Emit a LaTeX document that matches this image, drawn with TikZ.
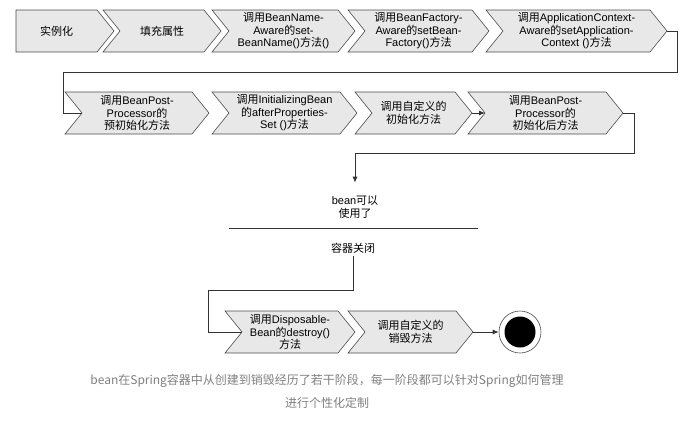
\documentclass[tikz,border=0pt]{standalone}
\usepackage{fontspec}
\setmainfont{Liberation Sans}
\newfontfamily\cjk{Noto Sans CJK SC}
\usetikzlibrary{arrows.meta}
\def\zh#1{{\cjk #1}}
% name, left x, right x, middle y, notch depth, text
\def\Chevron#1#2#3#4#5#6{
    \draw[stage] (#2,#4-21) -- (#3,#4-21) -- (#3+17,#4) -- (#3,#4+21) -- (#2,#4+21) -- (#2+#5,#4) -- cycle;
    \coordinate (#1-in) at (#2+#5,#4);
    \coordinate (#1-out) at (#3+17,#4);
    \node[stagetext] (#1) at ({(#2+#3+#5)/2},#4) {#6};
}

\begin{document}
\begin{tikzpicture}[x=1pt,y=-1pt,
    stage/.style={draw=black!70,fill=black!9,line width=0.6pt},
    stagetext/.style={align=center,font=\fontsize{11}{12.5}\selectfont,inner sep=0pt},
    flow/.style={draw=black!80,line width=0.8pt},
    flowtip/.style={flow,-{Latex[length=6pt,width=5pt]}},
    note/.style={align=center,text=black!50,font=\fontsize{12}{23}\selectfont\cjk}]
    \useasboundingbox (0,0) rectangle (696,421);

    \Chevron{s1}{16}{97}{31}{0}{\zh{实例化}}
    \Chevron{s2}{103}{204}{31}{17}{\zh{填充属性}}
    \Chevron{s3}{212}{338}{31}{17}{\zh{调用}BeanName-\\Aware\zh{的}set-\\BeanName()\zh{方法}()}
    \Chevron{s4}{348}{472}{31}{17}{\zh{调用}BeanFactory-\\Aware\zh{的}setBean-\\Factory()\zh{方法}}
    \Chevron{s5}{486}{650}{31}{17}{\zh{调用}ApplicationContext-\\Aware\zh{的}setApplication-\\Context ()\zh{方法}}

    \Chevron{p1}{65}{192}{113}{17}{\zh{调用}BeanPost-\\Processor\zh{的}\\\zh{预初始化方法}}
    \Chevron{p2}{212}{340}{113}{17}{\zh{调用}InitializingBean\\\zh{的}afterProperties-\\Set ()\zh{方法}}
    \Chevron{p3}{355}{455}{113}{17}{\zh{调用自定义的}\\\zh{初始化方法}}
    \Chevron{p4}{468}{606}{113}{17}{\zh{调用}BeanPost-\\Processor\zh{的}\\\zh{初始化后方法}}

    \Chevron{d1}{225}{338}{332}{17}{\zh{调用}Disposable-\\Bean\zh{的}destroy()\\\zh{方法}}
    \Chevron{d2}{348}{456}{332}{17}{\zh{调用自定义的}\\\zh{销毁方法}}

    \node[stagetext] (ready) at (355,207) {bean\zh{可以}\\\zh{使用了}};
    \node[stagetext] (close) at (353,248) {\zh{容器关闭}};
    \node[circle,draw=black!70,line width=0.6pt,minimum size=42pt,inner sep=0pt] (end) at (520,332) {};
    \node[circle,fill=black,minimum size=31pt,inner sep=0pt] (endcore) at (end) {};

    \coordinate (back1) at (63,72);
    \coordinate (back2) at (355,153);
    \coordinate (back3) at (208,290);

    \draw[flow] (s5-out) -- ++(10,0) |- (back1) |- (p1-in);
    \draw[flowtip] (p3-out) -- (p4-in);
    \draw[flowtip] (p4-out) -- ++(11,0) |- (back2) -- ([yshift=13pt]ready.north);
    \draw[flow] (229,228) -- (478,228);
    \draw[flow] ([yshift=-3pt]close.south) |- (back3) |- (d1-in);
    \draw[flowtip] (d2-out) -- (end.west);

    \node[note] (caption) at (327,391) {bean在Spring容器中从创建到销毁经历了若干阶段，每一阶段都可以针对Spring如何管理\\进行个性化定制};
\end{tikzpicture}
\end{document}
